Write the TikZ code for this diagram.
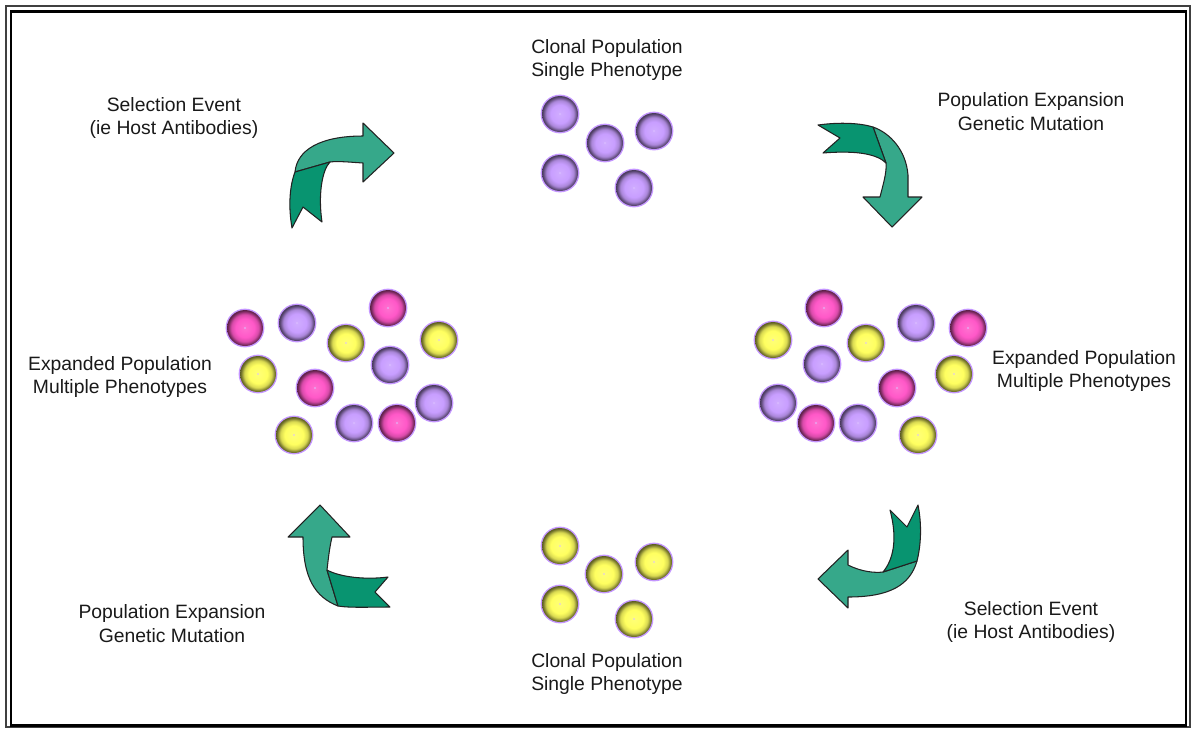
\documentclass[tikz,border=0pt]{standalone}
\usepackage{fontspec}
\setmainfont{Liberation Sans}
\usepackage{tikz}
\usepackage{xcolor}

\definecolor{cellpurple}{RGB}{200,158,255}
\definecolor{cellpink}{RGB}{255,88,200}
\definecolor{cellyellow}{RGB}{255,255,96}
\definecolor{cellglow}{RGB}{196,150,255}
\definecolor{ribbonlight}{RGB}{54,168,138}
\definecolor{ribbondark}{RGB}{8,148,112}
\definecolor{ribbonline}{RGB}{34,34,34}
\colorlet{cellc}{cellpurple}

% flat centre, dark rim (edge of the circle sits at 25bp)
\pgfdeclareradialshading[cellc]{cellshade}{\pgfpoint{0bp}{0bp}}{color(0bp)=(cellc!85!white); color(13bp)=(cellc); color(19bp)=(cellc!85!black); color(23bp)=(cellc!50!black); color(25bp)=(cellc!35!black); color(50bp)=(cellc!35!black)}

% one cell: colour, centre
\newcommand{\cellball}[2]{%
  \colorlet{cellc}{#1}%
  \draw[cellglow, line width=0.9pt] (#2) circle (18.6);
  \shade[shading=cellshade] (#2) circle (18);
  \fill[cellglow!60!white] (#2) circle (0.9);
}

\tikzset{
  caption/.style={align=center, font=\fontsize{11}{13.6}\selectfont, text=black!90},
  ribbon/.style={draw=ribbonline, line width=0.6pt, line join=round}
}

\begin{document}
\begin{tikzpicture}[x=0.02cm, y=-0.02cm]
  \useasboundingbox (0,0) rectangle (1191,728);
  % frame
  \draw[black!75, line width=0.7pt] (6,6) rectangle (1190,727);
  \draw[black, line width=1.5pt] (11,11.5) rectangle (1186,725.5);

  % captions
  \node[caption] (clonaltop) at (607,60) {Clonal Population\\Single Phenotype};
  \node[caption] (selecttl) at (174,118) {Selection Event\\(ie Host Antibodies)};
  \node[caption] (expandtr) at (1031,112) {Population Expansion\\Genetic Mutation};
  \node[caption] (multileft) at (120,377) {Expanded Population\\Multiple Phenotypes};
  \node[caption] (multiright) at (1084,371) {Expanded Population\\Multiple Phenotypes};
  \node[caption] (expandbl) at (172,624) {Population Expansion\\Genetic Mutation};
  \node[caption] (clonalbot) at (607,674) {Clonal Population\\Single Phenotype};
  \node[caption] (selectbr) at (1031,622) {Selection Event\\(ie Host Antibodies)};

  % top cluster
  \cellball{cellpurple}{560,114}
  \cellball{cellpurple}{605,143}
  \cellball{cellpurple}{654,131}
  \cellball{cellpurple}{560,173}
  \cellball{cellpurple}{634,188}

  % left cluster
  \cellball{cellpink}{245,328}
  \cellball{cellpurple}{297,323}
  \cellball{cellyellow}{346,343}
  \cellball{cellpink}{388,308}
  \cellball{cellyellow}{439,340}
  \cellball{cellyellow}{258,374}
  \cellball{cellpink}{315,388}
  \cellball{cellpurple}{390,365}
  \cellball{cellpurple}{434,403}
  \cellball{cellyellow}{294,435}
  \cellball{cellpurple}{354,423}
  \cellball{cellpink}{397,423}

  % right cluster
  \cellball{cellpink}{824,308}
  \cellball{cellyellow}{773,340}
  \cellball{cellyellow}{866,343}
  \cellball{cellpurple}{916,323}
  \cellball{cellpink}{968,328}
  \cellball{cellpurple}{822,364}
  \cellball{cellyellow}{954,374}
  \cellball{cellpink}{897,388}
  \cellball{cellpurple}{778,403}
  \cellball{cellpink}{816,423}
  \cellball{cellpurple}{858,423}
  \cellball{cellyellow}{918,435}

  % bottom cluster
  \cellball{cellyellow}{560,546}
  \cellball{cellyellow}{604,574}
  \cellball{cellyellow}{654,562}
  \cellball{cellyellow}{560,604}
  \cellball{cellyellow}{634,619}

  % top left arrow
  \filldraw[ribbon, fill=ribbonlight] (295,172) .. controls (297,150) and (320,136) .. (363,136)
    -- (363,123) -- (394,153) -- (363,182) -- (363,163)
    .. controls (348,162) and (338,161) .. (330,162) -- cycle;
  \filldraw[ribbon, fill=ribbondark] (295,172) -- (330,162)
    .. controls (322,170) and (318,195) .. (322,222) -- (303,207) -- (292,228)
    .. controls (288,205) and (290,185) .. (295,172) -- cycle;

  % top right arrow
  \filldraw[ribbon, fill=ribbonlight] (873,127) .. controls (890,133) and (906,150) .. (908,175)
    -- (908,197) -- (922,197) -- (892,227) -- (863,197) -- (880,197)
    .. controls (883,185) and (887,172) .. (886,163) -- cycle;
  \filldraw[ribbon, fill=ribbondark] (818,125) .. controls (840,122) and (860,123) .. (873,127)
    -- (886,163) .. controls (878,155) and (860,150) .. (823,153) -- (840,138) -- cycle;

  % bottom right arrow
  \filldraw[ribbon, fill=ribbonlight] (917,561) .. controls (910,585) and (890,597) .. (848,597)
    -- (848,608) -- (818,579) -- (848,550) -- (848,565)
    .. controls (862,572) and (875,573) .. (883,572) -- cycle;
  \filldraw[ribbon, fill=ribbondark] (918,505) .. controls (922,525) and (921,545) .. (917,561)
    -- (883,572) .. controls (893,560) and (898,540) .. (890,510) -- (907,527) -- cycle;

  % bottom left arrow
  \filldraw[ribbon, fill=ribbonlight] (338,606) .. controls (315,597) and (303,578) .. (303,537)
    -- (288,537) -- (320,505) -- (350,537) -- (332,537)
    .. controls (329,550) and (328,562) .. (327,570) -- cycle;
  \filldraw[ribbon, fill=ribbondark] (327,570) .. controls (340,577) and (365,580) .. (388,577)
    -- (375,592) -- (390,607) .. controls (370,607) and (350,608) .. (338,606) -- cycle;
\end{tikzpicture}
\end{document}
